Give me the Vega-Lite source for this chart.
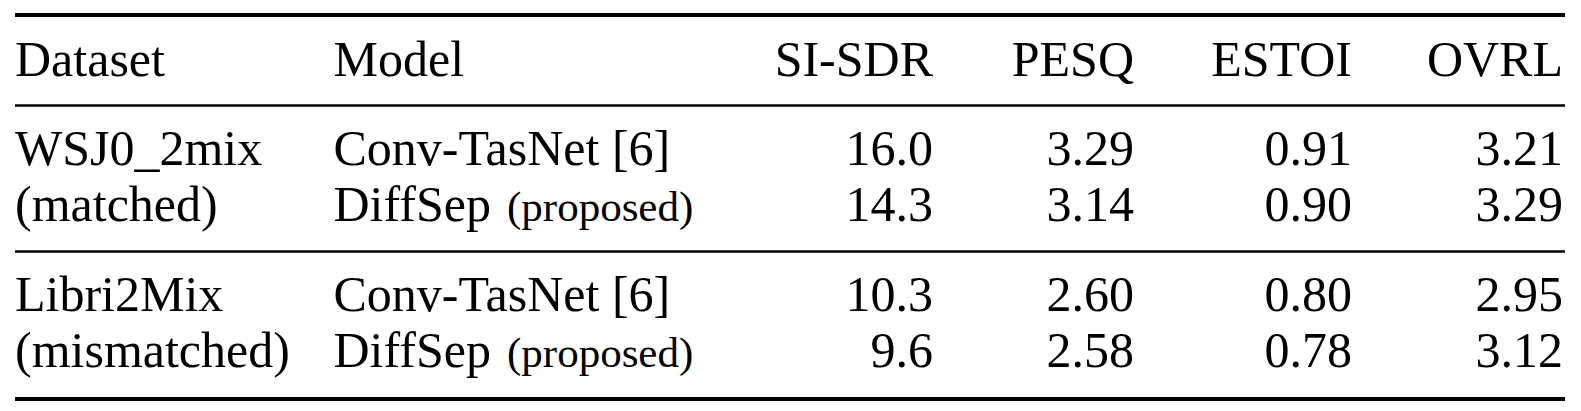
{
  "$schema": "https://vega.github.io/schema/vega-lite/v6.json",
  "width": 1581,
  "height": 411,
  "autosize": {"type": "fit", "contains": "padding"},
  "padding": 0,
  "background": "white",
  "datasets": {
    "cells": [
      {"line": 1, "col": 1, "text": "Dataset"},
      {"line": 1, "col": 2, "text": "Model"},
      {"line": 1, "col": 4, "text": "SI-SDR"},
      {"line": 1, "col": 5, "text": "PESQ"},
      {"line": 1, "col": 6, "text": "ESTOI"},
      {"line": 1, "col": 7, "text": "OVRL"},
      {"line": 2, "col": 1, "text": "WSJ0_2mix"},
      {"line": 2, "col": 2, "text": "Conv-TasNet [6]"},
      {"line": 2, "col": 4, "text": "16.0"},
      {"line": 2, "col": 5, "text": "3.29"},
      {"line": 2, "col": 6, "text": "0.91"},
      {"line": 2, "col": 7, "text": "3.21"},
      {"line": 3, "col": 1, "text": "(matched)"},
      {"line": 3, "col": 2, "text": "DiffSep"},
      {"line": 3, "col": 3, "text": "(proposed)"},
      {"line": 3, "col": 4, "text": "14.3"},
      {"line": 3, "col": 5, "text": "3.14"},
      {"line": 3, "col": 6, "text": "0.90"},
      {"line": 3, "col": 7, "text": "3.29"},
      {"line": 4, "col": 1, "text": "Libri2Mix"},
      {"line": 4, "col": 2, "text": "Conv-TasNet [6]"},
      {"line": 4, "col": 4, "text": "10.3"},
      {"line": 4, "col": 5, "text": "2.60"},
      {"line": 4, "col": 6, "text": "0.80"},
      {"line": 4, "col": 7, "text": "2.95"},
      {"line": 5, "col": 1, "text": "(mismatched)"},
      {"line": 5, "col": 2, "text": "DiffSep"},
      {"line": 5, "col": 3, "text": "(proposed)"},
      {"line": 5, "col": 4, "text": "9.6"},
      {"line": 5, "col": 5, "text": "2.58"},
      {"line": 5, "col": 6, "text": "0.78"},
      {"line": 5, "col": 7, "text": "3.12"}
    ],
    "rules": [
      {"rule": "top", "line": 0, "from": 1, "to": 8},
      {"rule": "head", "line": 1.5, "from": 1, "to": 8},
      {"rule": "mid", "line": 3.5, "from": 1, "to": 8},
      {"rule": "bottom", "line": 5.5, "from": 1, "to": 8}
    ]
  },
  "layer": [
    {
      "data": {"name": "rules"},
      "transform": [{"filter": {"field": "rule", "oneOf": ["top", "bottom"]}}],
      "mark": {"type": "rule", "strokeWidth": 4.2, "color": "black"},
      "encoding": {
        "x": {"field": "from", "type": "quantitative", "axis": null,
              "scale": {"domain": [1, 2, 3, 4, 5, 6, 7, 8], "range": [15, 333.5, 507, 933, 1134, 1352, 1563, 1565], "nice": false, "zero": false}},
        "x2": {"field": "to"},
        "y": {"field": "line", "type": "quantitative", "axis": null,
              "scale": {"domain": [0, 1, 1.5, 2, 3, 3.5, 4, 5, 5.5], "range": [15, 76, 105.5, 165, 221, 251.5, 311, 367, 399], "nice": false, "zero": false}}
      }
    },
    {
      "data": {"name": "rules"},
      "transform": [{"filter": {"field": "rule", "oneOf": ["head", "mid"]}}],
      "mark": {"type": "rule", "strokeWidth": 2.6, "color": "black"},
      "encoding": {
        "x": {"field": "from", "type": "quantitative", "axis": null},
        "x2": {"field": "to"},
        "y": {"field": "line", "type": "quantitative", "axis": null}
      }
    },
    {
      "data": {"name": "cells"},
      "transform": [{"filter": "datum.col <= 2"}],
      "mark": {"type": "text", "align": "left", "baseline": "alphabetic", "font": "Liberation Serif", "fontSize": 50, "color": "black"},
      "encoding": {
        "x": {"field": "col", "type": "quantitative", "axis": null},
        "y": {"field": "line", "type": "quantitative", "axis": null},
        "text": {"field": "text", "type": "nominal"}
      }
    },
    {
      "data": {"name": "cells"},
      "transform": [{"filter": "datum.col == 3"}],
      "mark": {"type": "text", "align": "left", "baseline": "alphabetic", "font": "Liberation Serif", "fontSize": 43, "color": "black"},
      "encoding": {
        "x": {"field": "col", "type": "quantitative", "axis": null},
        "y": {"field": "line", "type": "quantitative", "axis": null},
        "text": {"field": "text", "type": "nominal"}
      }
    },
    {
      "data": {"name": "cells"},
      "transform": [{"filter": "datum.col >= 4"}],
      "mark": {"type": "text", "align": "right", "baseline": "alphabetic", "font": "Liberation Serif", "fontSize": 50, "color": "black"},
      "encoding": {
        "x": {"field": "col", "type": "quantitative", "axis": null},
        "y": {"field": "line", "type": "quantitative", "axis": null},
        "text": {"field": "text", "type": "nominal"}
      }
    }
  ],
  "config": {"view": {"stroke": null}}
}
